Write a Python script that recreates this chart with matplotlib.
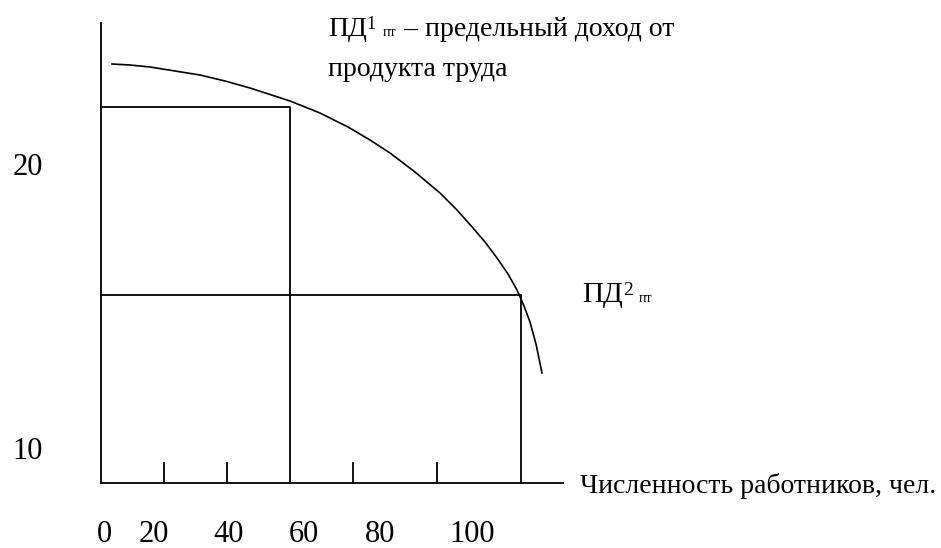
import matplotlib
matplotlib.use("Agg")
import matplotlib.pyplot as plt

# схема: предельный доход от продукта труда (единицы ~ пиксели от начала осей)
curve_x = [11, 29, 49, 74, 99, 124, 149, 189, 219, 247, 269, 289, 314, 339,
           356, 372, 384, 396, 407, 416, 423, 429, 435, 441]
curve_y = [419, 418, 416, 412, 408, 402, 395, 382, 370, 356, 343, 330, 311, 290,
           273, 255, 241, 225, 209, 193, 177, 161, 139, 110]

rect_x = [189, 420]      # numbers of workers for the two cases
rect_y = [376, 188]      # marginal revenue levels

tick_pos = [63, 126, 252, 336]
x_labels = ["0", "20", "40", "60", "80", "100"]
x_label_pos = [3, 53, 128, 203, 279, 371]
y_labels = ["20", "10"]
y_label_pos = [308, 24]

x_axis_end = 462
y_axis_end = 460
tick_len = 20

FONT = "Liberation Serif"


def chain_text(ax, renderer, x, y, parts):
    # parts: (text, size, dy) placed one after another on the same baseline
    for s, size, dy in parts:
        t = ax.text(x, y + dy, s, fontsize=size, family=FONT, va="baseline", ha="left")
        x += t.get_window_extent(renderer).width


def main():
    fig = plt.figure(figsize=(9.41, 5.48), dpi=100)
    ax = fig.add_axes([0, 0, 1, 1])
    ax.set_xlim(-101, 840)
    ax.set_ylim(-65, 483)
    ax.axis("off")

    lw = 1.3
    ax.plot([0, 0], [0, y_axis_end], color="black", lw=lw)
    ax.plot([0, x_axis_end], [0, 0], color="black", lw=lw)
    for t in tick_pos:
        ax.plot([t, t], [0, tick_len], color="black", lw=lw)

    for rx, ry in zip(rect_x, rect_y):
        ax.plot([0, rx, rx], [ry, ry, 0], color="black", lw=lw)

    ax.plot(curve_x, curve_y, color="black", lw=1.2)

    for s, p in zip(x_labels, x_label_pos):
        ax.text(p, -59, s, fontsize=22, family=FONT, ha="center", va="baseline")
    for s, p in zip(y_labels, y_label_pos):
        ax.text(-73, p, s, fontsize=22, family=FONT, ha="center", va="baseline")

    renderer = fig.canvas.get_renderer()
    chain_text(ax, renderer, 227, 447, [
        ("ПД", 20, 0), ("1", 13, 7), (" ", 20, 0), ("пт", 10, 0),
        (" – предельный доход от", 20, 0)])
    ax.text(227, 407, "продукта труда", fontsize=20, family=FONT, va="baseline")

    chain_text(ax, renderer, 481, 181, [
        ("ПД", 21, 0), ("2", 14, 7), (" ", 18, 0), ("пт", 10, 0)])

    ax.text(479, -10, "Численность работников, чел.", fontsize=20, family=FONT,
            va="baseline")

    fig.savefig("out.png", dpi=100)


if __name__ == "__main__":
    main()
